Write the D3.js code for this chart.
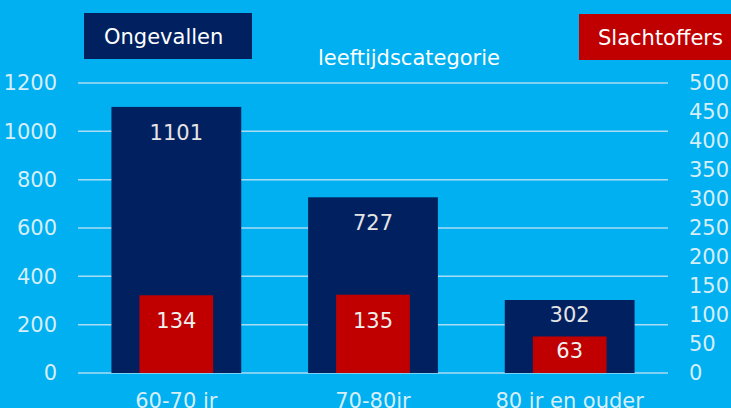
<!DOCTYPE html>
<html>
<head>
<meta charset="utf-8">
<script src="https://cdn.jsdelivr.net/npm/d3@7"></script>
<style>
  body { margin: 0; background: #00B0F0; overflow: hidden; }
  svg { display: block; font-family: "DejaVu Sans", Verdana, sans-serif; }
</style>
</head>
<body>
<div class="chartHolder"></div>
<script>
// chart data
const categories = ["60-70 jr", "70-80jr", "80 jr en ouder"];
const ongevallen = [1101, 727, 302];
const slachtoffers = [134, 135, 63];
const leftTicks = [0, 200, 400, 600, 800, 1000, 1200];
const rightTicks = [0, 50, 100, 150, 200, 250, 300, 350, 400, 450, 500];

const width = 731;
const height = 408;
const plotLeft = 78, plotRight = 668, plotTop = 83, plotBottom = 373;
const fontSize = "21px";

const svg = d3.select(".chartHolder")
  .append("svg")
  .attr("width", width)
  .attr("height", height);

svg.append("rect")
  .attr("width", width)
  .attr("height", height)
  .attr("fill", "#00B0F0");

const xScale = d3.scaleBand()
  .domain(categories)
  .range([plotLeft, plotRight]);

const yLeft = d3.scaleLinear().domain([0, 1200]).range([plotBottom, plotTop]);
const yRight = d3.scaleLinear().domain([0, 500]).range([plotBottom, plotTop]);

// gridlines
svg.append("g")
  .selectAll("line")
  .data(leftTicks)
  .enter()
  .append("line")
  .attr("x1", plotLeft)
  .attr("x2", plotRight)
  .attr("y1", (d) => yLeft(d))
  .attr("y2", (d) => yLeft(d))
  .attr("stroke", "#A9DDF3")
  .attr("stroke-width", 1.5);

// left axis labels
const yAxisL = d3.axisLeft(yLeft).tickValues(leftTicks).tickFormat(d3.format("d"))
  .tickSize(0).tickPadding(0);
const gl = svg.append("g")
  .attr("transform", "translate(57,0)")
  .call(yAxisL);
gl.select(".domain").remove();
gl.selectAll("text")
  .attr("fill", "#D6EEF9")
  .style("font-size", fontSize)
  .style("font-family", "DejaVu Sans, sans-serif");

// right axis labels
const yAxisR = d3.axisRight(yRight).tickValues(rightTicks).tickFormat(d3.format("d"))
  .tickSize(0).tickPadding(0);
const gr = svg.append("g")
  .attr("transform", "translate(689,0)")
  .call(yAxisR);
gr.select(".domain").remove();
gr.selectAll("text")
  .attr("fill", "#D6EEF9")
  .style("font-size", fontSize)
  .style("font-family", "DejaVu Sans, sans-serif");

// category labels
const xAxis = d3.axisBottom(xScale).tickSize(0).tickPadding(0);
const gx = svg.append("g")
  .attr("transform", "translate(0," + (plotBottom + 20) + ")")
  .call(xAxis);
gx.select(".domain").remove();
gx.selectAll("text")
  .attr("fill", "#D6EEF9")
  .style("font-size", fontSize)
  .style("font-family", "DejaVu Sans, sans-serif");

// bars
const navyW = xScale.bandwidth() * 0.66;
const redW = xScale.bandwidth() * 0.375;

svg.append("g")
  .selectAll("rect")
  .data(ongevallen)
  .enter()
  .append("rect")
  .attr("x", (d, i) => xScale(categories[i]) + (xScale.bandwidth() - navyW) / 2)
  .attr("y", (d) => yLeft(d))
  .attr("width", navyW)
  .attr("height", (d) => plotBottom - yLeft(d))
  .attr("fill", "#002060");

svg.append("g")
  .selectAll("rect")
  .data(slachtoffers)
  .enter()
  .append("rect")
  .attr("x", (d, i) => xScale(categories[i]) + (xScale.bandwidth() - redW) / 2)
  .attr("y", (d) => yRight(d))
  .attr("width", redW)
  .attr("height", (d) => plotBottom - yRight(d))
  .attr("fill", "#C00000");

// value labels
function labelOffset(h) {
  return h > 75 ? 26 : 15;
}

svg.append("g")
  .selectAll("text")
  .data(ongevallen)
  .enter()
  .append("text")
  .attr("x", (d, i) => xScale(categories[i]) + xScale.bandwidth() / 2)
  .attr("y", (d) => yLeft(d) + labelOffset(plotBottom - yLeft(d)))
  .attr("text-anchor", "middle")
  .attr("dominant-baseline", "central")
  .attr("fill", "#E4E4E4")
  .style("font-size", fontSize)
  .text((d) => d);

svg.append("g")
  .selectAll("text")
  .data(slachtoffers)
  .enter()
  .append("text")
  .attr("x", (d, i) => xScale(categories[i]) + xScale.bandwidth() / 2)
  .attr("y", (d) => yRight(d) + labelOffset(plotBottom - yRight(d)))
  .attr("text-anchor", "middle")
  .attr("dominant-baseline", "central")
  .attr("fill", "#F0F0F0")
  .style("font-size", fontSize)
  .text((d) => d);

// title
svg.append("text")
  .attr("x", 409)
  .attr("y", 58)
  .attr("text-anchor", "middle")
  .attr("dominant-baseline", "central")
  .attr("fill", "#FFFFFF")
  .style("font-size", fontSize)
  .text("leeftijdscategorie");

// legend boxes
svg.append("rect")
  .attr("x", 84).attr("y", 13)
  .attr("width", 168).attr("height", 46)
  .attr("fill", "#002060");
svg.append("text")
  .attr("x", 104).attr("y", 37)
  .attr("dominant-baseline", "central")
  .attr("fill", "#FFFFFF")
  .style("font-size", fontSize)
  .text("Ongevallen");

svg.append("rect")
  .attr("x", 579).attr("y", 14)
  .attr("width", 152).attr("height", 46)
  .attr("fill", "#C00000");
svg.append("text")
  .attr("x", 598).attr("y", 38)
  .attr("dominant-baseline", "central")
  .attr("fill", "#FFFFFF")
  .style("font-size", fontSize)
  .text("Slachtoffers");
</script>
</body>
</html>
